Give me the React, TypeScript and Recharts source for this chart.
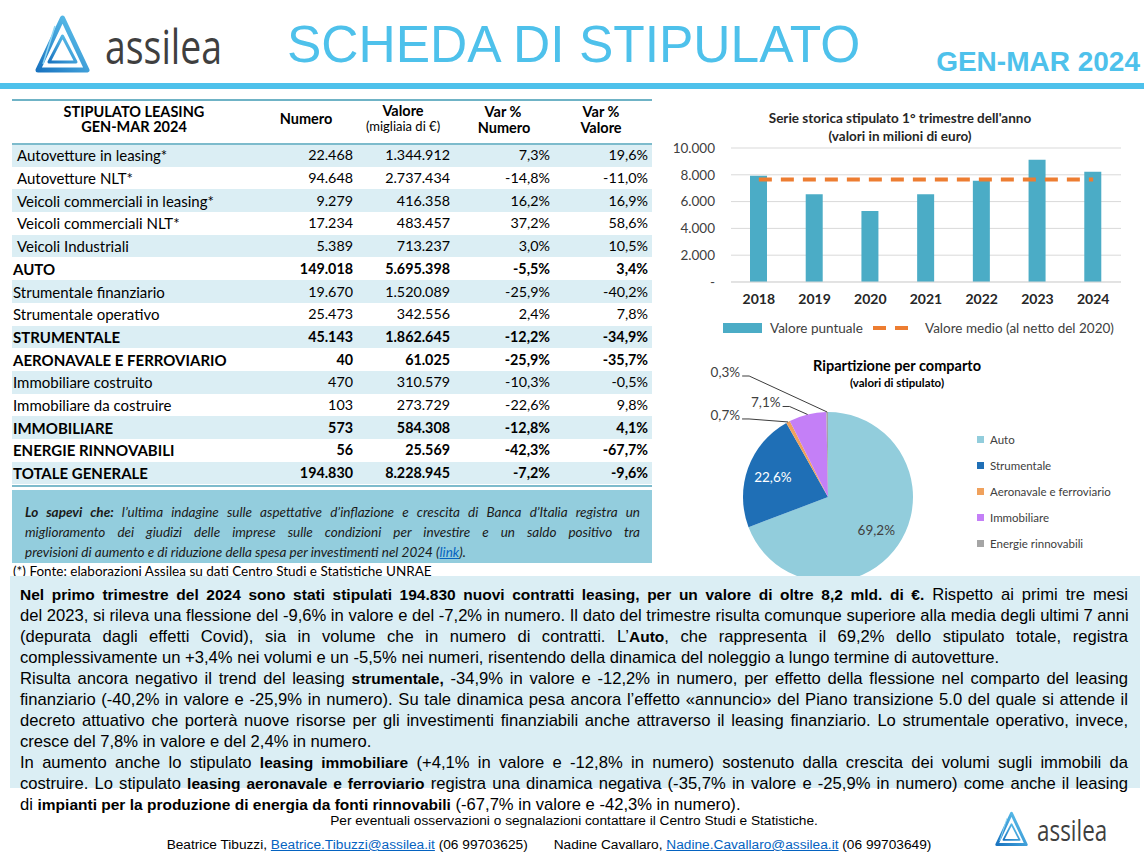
import React from "react";
import {
  ComposedChart, Bar, Line, XAxis, YAxis, CartesianGrid,
  PieChart, Pie, Cell
} from "recharts";

// serie storica 1° trimestre (milioni di euro)
const anni = ["2018", "2019", "2020", "2021", "2022", "2023", "2024"];
const valorePuntuale = [7925, 6550, 5300, 6550, 7550, 9125, 8229];
const valoreMedio = [7650, 7650, 7650, 7650, 7650, 7650, 7650];
const yTicks = [0, 2000, 4000, 6000, 8000, 10000];

// ripartizione per comparto (migliaia di euro)
const comparti = ["Auto", "Strumentale", "Aeronavale e ferroviario", "Immobiliare", "Energie rinnovabili"];
const valoriComparto = [5695398, 1862645, 61025, 584308, 25569];
const coloriComparto = ["#92CDDC", "#1F6FB6", "#F0A15C", "#C47FF7", "#A5A5A5"];

// tabella stipulato
const voci = [
  "Autovetture in leasing*", "Autovetture NLT*", "Veicoli commerciali in leasing*",
  "Veicoli commerciali NLT*", "Veicoli Industriali", "AUTO", "Strumentale finanziario",
  "Strumentale operativo", "STRUMENTALE", "AERONAVALE E FERROVIARIO", "Immobiliare costruito",
  "Immobiliare da costruire", "IMMOBILIARE", "ENERGIE RINNOVABILI", "TOTALE GENERALE",
];
const numeri = [22468, 94648, 9279, 17234, 5389, 149018, 19670, 25473, 45143, 40, 470, 103, 573, 56, 194830];
const valori = [1344912, 2737434, 416358, 483457, 713237, 5695398, 1520089, 342556, 1862645, 61025, 310579, 273729, 584308, 25569, 8228945];
const varNumero = [7.3, -14.8, 16.2, 37.2, 3.0, -5.5, -25.9, 2.4, -12.2, -25.9, -10.3, -22.6, -12.8, -42.3, -7.2];
const varValore = [19.6, -11.0, 16.9, 58.6, 10.5, 3.4, -40.2, 7.8, -34.9, -35.7, -0.5, 9.8, 4.1, -67.7, -9.6];
const righeTotali = ["AUTO", "STRUMENTALE", "AERONAVALE E FERROVIARIO", "IMMOBILIARE", "ENERGIE RINNOVABILI", "TOTALE GENERALE"];

const CAL = "Lato, 'Open Sans', sans-serif";
const ARIAL = "'Liberation Sans', Arial, sans-serif";
const AZZURRO = "#4EC1EB";

const migliaia = (v: number) => String(Math.round(v)).replace(/\B(?=(\d{3})+(?!\d))/g, ".");
const perc = (v: number) => v.toFixed(1).replace(".", ",") + "%";

const RAD = Math.PI / 180;

function T({ x, y, children, align = "left", style }: any) {
  const pos: any = { position: "absolute", top: y - 11, height: 22, lineHeight: "22px", whiteSpace: "nowrap" };
  if (align === "center") { pos.left = x - 600; pos.width = 1200; pos.textAlign = "center"; }
  else if (align === "right") { pos.left = x - 1000; pos.width = 1000; pos.textAlign = "right"; }
  else pos.left = x;
  return <div style={{ ...pos, ...style }}>{children}</div>;
}

function Logo({ x, y, scale }: { x: number; y: number; scale: number }) {
  return (
    <svg width={200 * scale} height={66 * scale} viewBox="0 0 200 66"
      style={{ position: "absolute", left: x, top: y, overflow: "visible" }}>
      <defs>
        <linearGradient id={`lg${x}`} x1="0" y1="1" x2="1" y2="0">
          <stop offset="0" stopColor="#1A74C0" />
          <stop offset="1" stopColor="#66CBF1" />
        </linearGradient>
      </defs>
      <path d="M27.5 4 L52 56 L3 56 Z" fill="none" stroke={`url(#lg${x})`} strokeWidth={5} strokeLinejoin="round" />
      <path d="M27.5 22 L41 48 L14 48 Z" fill="none" stroke={`url(#lg${x})`} strokeWidth={3} strokeLinejoin="round" />
      <path d="M20 12 L8 50" stroke="#8FD6F4" strokeWidth={1.5} />
      <text x={70} y={50} fontSize={48} fontFamily="'Open Sans', sans-serif" fill="#3F3F3F"
        textLength={117} lengthAdjust="spacingAndGlyphs">assilea</text>
    </svg>
  );
}

function BarChartBox() {
  const data = anni.map((a, i) => ({ anno: a, puntuale: valorePuntuale[i], medio: valoreMedio[i] }));
  return (
    <div style={{ position: "absolute", left: 660, top: 100, width: 484, height: 245, fontFamily: CAL }}>
      <T x={240} y={18} align="center" style={{ fontSize: 13.5, fontWeight: 700, color: "#262626" }}>
        Serie storica stipulato 1° trimestre dell'anno
      </T>
      <T x={240} y={36} align="center" style={{ fontSize: 13.5, fontWeight: 700, color: "#262626" }}>
        (valori in milioni di euro)
      </T>
      <div style={{ position: "absolute", left: 0, top: 0 }}>
        <ComposedChart width={484} height={245} data={data} margin={{ top: 48, right: 23, bottom: 33, left: 11 }}>
          <CartesianGrid vertical={false} stroke="#D9D9D9" />
          <XAxis dataKey="anno" axisLine={{ stroke: "#D9D9D9" }} tickLine={false} height={30} tickMargin={6}
            tick={{ fill: "#262626", fontSize: 14, fontWeight: 700, fontFamily: CAL }} />
          <YAxis domain={[0, 10000]} ticks={yTicks} width={60} axisLine={false} tickLine={false} tickMargin={10}
            tickFormatter={(v: number) => (v === 0 ? "-  " : migliaia(v))}
            tick={{ fill: "#404040", fontSize: 13.5, fontFamily: CAL }} />
          <Bar dataKey="puntuale" fill="#4BACC6" barSize={17} isAnimationActive={false} />
          <Line dataKey="medio" stroke="#ED7D31" strokeWidth={4} strokeDasharray="13 9" dot={false}
            activeDot={false} isAnimationActive={false} />
        </ComposedChart>
      </div>
      <svg style={{ position: "absolute", left: 63, top: 221 }} width={60} height={14}>
        <rect x={0} y={2} width={39} height={10} fill="#4BACC6" />
      </svg>
      <T x={110} y={228} style={{ fontSize: 13.5, color: "#404040" }}>Valore puntuale</T>
      <svg style={{ position: "absolute", left: 213, top: 221 }} width={42} height={14}>
        <line x1={0} y1={7} x2={40} y2={7} stroke="#ED7D31" strokeWidth={4} strokeDasharray="13 9" />
      </svg>
      <T x={265} y={228} style={{ fontSize: 13.5, color: "#404040" }}>Valore medio (al netto del 2020)</T>
    </div>
  );
}

// posizione delle etichette esterne rispetto al bordo della fetta
const offsetEtichette: Record<number, { dx: number; dy: number }> = {
  2: { dx: -48, dy: -7 },
  3: { dx: -27, dy: -12 },
  4: { dx: -87, dy: -40 },
};

function renderPieLabel(p: any) {
  const { cx, cy, midAngle, outerRadius, percent, index } = p;
  const txt = perc(percent * 100);
  if (index < 2) {
    const r = outerRadius * 0.69;
    const x = cx + r * Math.cos(-midAngle * RAD);
    const y = cy + r * Math.sin(-midAngle * RAD);
    return (
      <text x={x} y={y} textAnchor="middle" dominantBaseline="central" fontSize={13.5}
        fontFamily={CAL} fill={index === 1 ? "#FFFFFF" : "#404040"}>{txt}</text>
    );
  }
  const ax = cx + outerRadius * Math.cos(-midAngle * RAD);
  const ay = cy + outerRadius * Math.sin(-midAngle * RAD);
  const o = offsetEtichette[index];
  const tx = ax + o.dx;
  const ty = ay + o.dy;
  return (
    <g>
      <polyline points={`${tx + 2},${ty + 4} ${tx + 9},${ty + 4} ${ax},${ay}`} fill="none" stroke="#262626" strokeWidth={0.9} />
      <text x={tx} y={ty} textAnchor="end" dominantBaseline="central" fontSize={13.5}
        fontFamily={CAL} fill="#404040">{txt}</text>
    </g>
  );
}

function PieBox() {
  const data = comparti.map((c, i) => ({ nome: c, valore: valoriComparto[i] }));
  return (
    <div style={{ position: "absolute", left: 660, top: 340, width: 484, height: 240, fontFamily: CAL }}>
      <T x={237} y={26} align="center" style={{ fontSize: 14.5, fontWeight: 700, color: "#000" }}>
        Ripartizione per comparto
      </T>
      <T x={237} y={43} align="center" style={{ fontSize: 11.5, fontWeight: 700, color: "#000" }}>
        (valori di stipulato)
      </T>
      <div style={{ position: "absolute", left: 0, top: 0 }}>
        <PieChart width={484} height={240}>
          <Pie data={data} dataKey="valore" nameKey="nome" cx={163} cy={152} outerRadius={85}
            startAngle={90} endAngle={-270} stroke="none" label={renderPieLabel} labelLine={false}
            isAnimationActive={false}>
            {data.map((d, i) => <Cell key={d.nome} fill={coloriComparto[i]} />)}
          </Pie>
        </PieChart>
      </div>
      {comparti.map((c, i) => (
        <div key={c} style={{ position: "absolute", left: 317, top: 89 + i * 26, height: 20, display: "flex", alignItems: "center" }}>
          <div style={{ width: 7, height: 7, background: coloriComparto[i], marginRight: 6 }} />
          <span style={{ fontSize: 11.5, color: "#404040" }}>{c}</span>
        </div>
      ))}
    </div>
  );
}

function Tabella() {
  const top0 = 144;
  const h = 22.7;
  const hdr = { fontSize: 14.5, fontWeight: 700, color: "#000", height: 14, lineHeight: "14px" };
  return (
    <div style={{ position: "absolute", left: 0, top: 0, fontFamily: CAL }}>
      <div style={{ position: "absolute", left: 12, top: 99, width: 640, height: 2, background: "#6FB3C6" }} />
      <T x={134} y={113} align="center" style={{ ...hdr, top: 105 }}>STIPULATO LEASING</T>
      <T x={134} y={127} align="center" style={{ ...hdr, top: 120 }}>GEN-MAR 2024</T>
      <T x={306} y={120} align="center" style={{ ...hdr, top: 112 }}>Numero</T>
      <T x={403} y={111} align="center" style={{ ...hdr, top: 104 }}>Valore</T>
      <T x={403} y={126} align="center" style={{ fontSize: 13, color: "#000", height: 14, lineHeight: "14px", top: 119 }}>(migliaia di €)</T>
      <T x={503} y={112} align="center" style={{ ...hdr, top: 105 }}>Var %</T>
      <T x={504} y={128} align="center" style={{ ...hdr, top: 121 }}>Numero</T>
      <T x={601} y={112} align="center" style={{ ...hdr, top: 105 }}>Var %</T>
      <T x={601} y={128} align="center" style={{ ...hdr, top: 121 }}>Valore</T>
      {voci.map((v, i) => {
        const bold = righeTotali.includes(v);
        const y = top0 + i * h;
        const st = { fontSize: 15, fontWeight: bold ? 700 : 400, color: "#000" };
        const sn = { ...st, fontSize: 14.3 };
        const cy = y + h / 2;
        return (
          <div key={v}>
            <div style={{ position: "absolute", left: 12, top: y, width: 640, height: h, background: i % 2 === 0 ? "#DBEEF4" : "#FFFFFF" }} />
            <T x={i < 5 ? 17 : 13} y={cy} style={st}>{v}</T>
            <T x={353} y={cy} align="right" style={sn}>{migliaia(numeri[i])}</T>
            <T x={450} y={cy} align="right" style={sn}>{migliaia(valori[i])}</T>
            <T x={550} y={cy} align="right" style={sn}>{perc(varNumero[i])}</T>
            <T x={648} y={cy} align="right" style={sn}>{perc(varValore[i])}</T>
          </div>
        );
      })}
      <div style={{ position: "absolute", left: 12, top: 143, width: 640, height: 2, background: "#7DBBCC" }} />
      <div style={{ position: "absolute", left: 12, top: 485, width: 640, height: 2, background: "#7DBBCC" }} />
    </div>
  );
}

function SapeviBox() {
  const line: any = { position: "absolute", left: 25, width: 615, height: 20, lineHeight: "20px",
    fontSize: 13.5, fontStyle: "italic", color: "#1A1A1A", textAlign: "justify", whiteSpace: "nowrap" };
  return (
    <div style={{ position: "absolute", left: 0, top: 0, fontFamily: CAL }}>
      <div style={{ position: "absolute", left: 12, top: 490, width: 640, height: 73, background: "#93CDDD" }} />
      <div style={{ ...line, top: 502, textAlignLast: "justify" }}>
        <b>Lo sapevi che:</b> l’ultima indagine sulle aspettative d’inflazione e crescita di Banca d’Italia registra un
      </div>
      <div style={{ ...line, top: 522, textAlignLast: "justify" }}>
        miglioramento dei giudizi delle imprese sulle condizioni per investire e un saldo positivo tra
      </div>
      <div style={{ ...line, top: 542 }}>
        previsioni di aumento e di riduzione della spesa per investimenti nel 2024 (<span style={{ color: "#0563C1", textDecoration: "underline" }}>link</span>).
      </div>
      <T x={13} y={571} style={{ fontSize: 13.5, color: "#000" }}>(*) Fonte: elaborazioni Assilea su dati Centro Studi e Statistiche UNRAE</T>
    </div>
  );
}

const righeTesto: { parti: [string, boolean][]; ultima?: boolean }[] = [
  { parti: [["Nel primo trimestre del 2024 sono stati stipulati 194.830 nuovi contratti leasing, per un valore di oltre 8,2 mld. di €.", true], [" Rispetto ai primi tre mesi", false]] },
  { parti: [["del 2023, si rileva una flessione del -9,6% in valore e del -7,2% in numero. Il dato del trimestre risulta comunque superiore alla media degli ultimi 7 anni", false]] },
  { parti: [["(depurata dagli effetti Covid), sia in volume che in numero di contratti. L’", false], ["Auto", true], [", che rappresenta il 69,2% dello stipulato totale, registra", false]] },
  { parti: [["complessivamente un +3,4% nei volumi e un -5,5% nei numeri, risentendo della dinamica del noleggio a lungo termine di autovetture.", false]], ultima: true },
  { parti: [["Risulta ancora negativo il trend del leasing ", false], ["strumentale,", true], [" -34,9% in valore e -12,2% in numero, per effetto della flessione nel comparto del leasing", false]] },
  { parti: [["finanziario (-40,2% in valore e -25,9% in numero). Su tale dinamica pesa ancora l’effetto «annuncio» del Piano transizione 5.0 del quale si attende il", false]] },
  { parti: [["decreto attuativo che porterà nuove risorse per gli investimenti finanziabili anche attraverso il leasing finanziario. Lo strumentale operativo, invece,", false]] },
  { parti: [["cresce del 7,8% in valore e del 2,4% in numero.", false]], ultima: true },
  { parti: [["In aumento anche lo stipulato ", false], ["leasing immobiliare", true], [" (+4,1% in valore e -12,8% in numero) sostenuto dalla crescita dei volumi sugli immobili da", false]] },
  { parti: [["costruire. Lo stipulato ", false], ["leasing aeronavale e ferroviario", true], [" registra una dinamica negativa (-35,7% in valore e -25,9% in numero) come anche il leasing", false]] },
  { parti: [["di ", false], ["impianti per la produzione di energia da fonti rinnovabili", true], [" (-67,7% in valore e -42,3% in numero).", false]], ultima: true },
];

function Commento() {
  return (
    <div style={{ position: "absolute", left: 0, top: 0, fontFamily: ARIAL }}>
      <div style={{ position: "absolute", left: 10, top: 576, width: 1130, height: 212, background: "#DBEEF4" }} />
      {righeTesto.map((r, i) => (
        <div key={i} style={{
          position: "absolute", left: 20, top: 584 + i * 21, width: 1108, height: 21, lineHeight: "21px",
          color: "#000", textAlign: "justify", textAlignLast: r.ultima ? "left" : "justify", whiteSpace: "nowrap",
        }}>
          {r.parti.map(([t, b], j) => (
            <span key={j} style={{ fontWeight: b ? 700 : 400, fontSize: b ? 15.5 : 16.6 }}>{t}</span>
          ))}
        </div>
      ))}
      <T x={574} y={821} align="center" style={{ fontSize: 13.7, color: "#000" }}>
        Per eventuali osservazioni o segnalazioni contattare il Centro Studi e Statistiche.
      </T>
      <T x={549} y={845} align="center" style={{ fontSize: 13.7, color: "#000" }}>
        Beatrice Tibuzzi, <span style={{ color: "#0563C1", textDecoration: "underline" }}>Beatrice.Tibuzzi@assilea.it</span> (06 99703625)
        <span style={{ display: "inline-block", width: 26 }} />
        Nadine Cavallaro, <span style={{ color: "#0563C1", textDecoration: "underline" }}>Nadine.Cavallaro@assilea.it</span> (06 99703649)
      </T>
    </div>
  );
}

export default function App() {
  return (
    <div style={{ position: "absolute", left: 0, top: 0, width: 1144, height: 859, background: "#FFFFFF", overflow: "hidden" }}>
      <Logo x={35} y={14} scale={1} />
      <T x={287} y={44} style={{ fontFamily: ARIAL, fontSize: 51.5, color: AZZURRO, height: 60, top: 14, lineHeight: "60px" }}>
        SCHEDA DI STIPULATO
      </T>
      <T x={1140} y={62} align="right" style={{ fontFamily: ARIAL, fontSize: 28, fontWeight: 700, color: AZZURRO, height: 32, top: 46, lineHeight: "32px" }}>
        GEN-MAR 2024
      </T>
      <div style={{ position: "absolute", left: 0, top: 83, width: 1144, height: 6, background: AZZURRO }} />
      <Tabella />
      <SapeviBox />
      <BarChartBox />
      <PieBox />
      <Commento />
      <Logo x={995} y={811} scale={0.6} />
    </div>
  );
}
